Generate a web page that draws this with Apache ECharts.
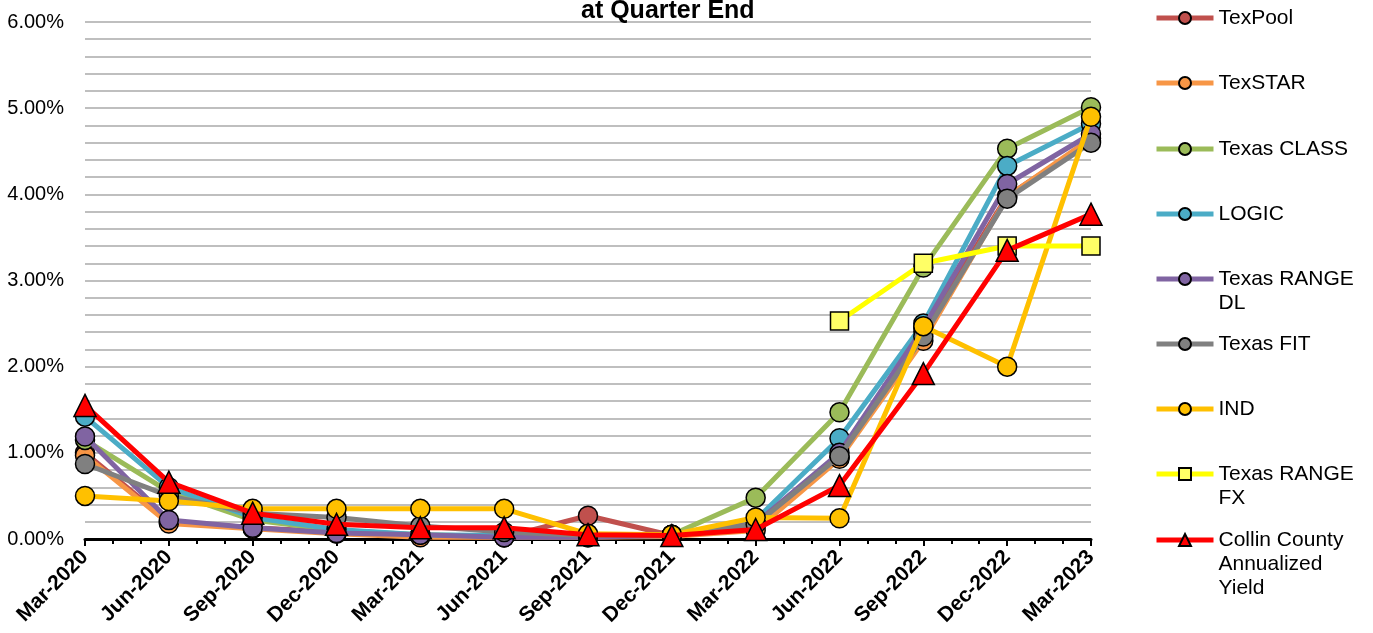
<!DOCTYPE html>
<html>
<head>
<meta charset="utf-8">
<script src="https://cdn.jsdelivr.net/npm/echarts@6/dist/echarts.min.js"></script>
<style>
  html, body { margin: 0; padding: 0; background: #fff; }
  #chart { width: 1373px; height: 633px; }
</style>
</head>
<body>
<div id="chart"></div>
<script>
// quarter-end yields, in percent
const quarters = ['Mar-2020', 'Jun-2020', 'Sep-2020', 'Dec-2020', 'Mar-2021', 'Jun-2021', 'Sep-2021',
                  'Dec-2021', 'Mar-2022', 'Jun-2022', 'Sep-2022', 'Dec-2022', 'Mar-2023']
const texPool    = [1.00, 0.20, 0.13, 0.08, 0.03, 0.02, 0.27, 0.04, 0.15, 0.95, 2.40, 3.98, 4.62]
const texStar    = [0.97, 0.18, 0.12, 0.06, 0.02, 0.02, 0.02, 0.03, 0.10, 0.93, 2.30, 3.97, 4.65]
const texasClass = [1.15, 0.55, 0.22, 0.10, 0.05, 0.03, 0.03, 0.05, 0.48, 1.47, 3.15, 4.53, 5.01]
const logic      = [1.42, 0.60, 0.25, 0.11, 0.05, 0.04, 0.03, 0.05, 0.22, 1.17, 2.50, 4.33, 4.82]
const rangeDL    = [1.19, 0.22, 0.13, 0.07, 0.05, 0.02, 0.02, 0.04, 0.18, 1.00, 2.45, 4.12, 4.70]
const texasFit   = [0.87, 0.50, 0.30, 0.25, 0.15, 0.08, 0.04, 0.05, 0.17, 0.96, 2.35, 3.95, 4.60]
const ind        = [0.50, 0.44, 0.35, 0.35, 0.35, 0.35, 0.06, 0.05, 0.25, 0.24, 2.47, 2.00, 4.90]
const rangeFX    = [null, null, null, null, null, null, null, null, null, 2.53, 3.20, 3.40, 3.40]
const collin     = [1.55, 0.66, 0.30, 0.17, 0.13, 0.13, 0.05, 0.04, 0.11, 0.62, 1.92, 3.35, 3.77]
const yTicks     = [0, 1, 2, 3, 4, 5, 6]

const FONT = 'Liberation Sans, Arial, sans-serif'

// name, values, line colour, marker, marker fill, legend label lines
const seriesDefs = [
    ['TexPool', texPool, '#c0504d', 'circle', '#c0504d', ['TexPool']],
    ['TexSTAR', texStar, '#f79646', 'circle', '#f79646', ['TexSTAR']],
    ['Texas CLASS', texasClass, '#9bbb59', 'circle', '#9bbb59', ['Texas CLASS']],
    ['LOGIC', logic, '#4bacc6', 'circle', '#4bacc6', ['LOGIC']],
    ['Texas RANGE DL', rangeDL, '#8064a2', 'circle', '#8064a2', ['Texas RANGE', 'DL']],
    ['Texas FIT', texasFit, '#808080', 'circle', '#808080', ['Texas FIT']],
    ['IND', ind, '#ffc000', 'circle', '#ffc000', ['IND']],
    ['Texas RANGE FX', rangeFX, '#ffff00', 'rect', '#ffff66', ['Texas RANGE', 'FX']],
    ['Collin County Annualized Yield', collin, '#ff0000', 'triangle', '#ff0000', ['Collin County', 'Annualized', 'Yield']]
]
const legendCenters = [18, 83, 149, 214, 279, 344, 409, 474, 540]
const LH = 24

const chart = echarts.init(document.getElementById('chart'))

const series = seriesDefs.map(function (d, k) {
    return {
        name: d[0],
        type: 'line',
        data: d[1].map(function (v, i) { return [i, v] }),
        symbol: d[3],
        symbolSize: d[3] === 'triangle' ? 22 : (d[3] === 'rect' ? 18 : 19),
        showAllSymbol: true,
        connectNulls: false,
        z: 2 + k,
        lineStyle: { color: d[2], width: 5 },
        itemStyle: { color: d[4], borderColor: '#000', borderWidth: 1.5 },
        emphasis: { disabled: true },
        animation: false
    }
})

// one legend block per item so the rows keep the reference spacing;
// blank lines on top keep the symbol level with the first text line
const legends = seriesDefs.map(function (d, k) {
    const lines = d[5]
    const pad = []
    for (let j = 1; j < lines.length; j++) pad.push('')
    const total = lines.length * 2 - 1
    return {
        data: [d[0]],
        orient: 'vertical',
        left: 1154,
        top: legendCenters[k] - total * LH / 2,
        padding: 0,
        itemWidth: 57,
        itemHeight: 15,
        selectedMode: false,
        lineStyle: { width: 5 },
        formatter: function () { return pad.concat(lines).join('\n') },
        textStyle: { fontFamily: FONT, fontSize: 21, color: '#000', lineHeight: LH }
    }
})

chart.setOption({
    backgroundColor: '#fff',
    animation: false,
    title: {
        text: 'at Quarter End',
        left: 581,
        top: -1,
        padding: 0,
        textStyle: { fontFamily: FONT, fontSize: 25, fontWeight: 'bold', color: '#000' }
    },
    legend: legends,
    grid: { left: 85, right: 282, top: 22, bottom: 94 },
    xAxis: {
        type: 'value',
        min: 0,
        max: quarters.length - 1,
        interval: 1,
        axisLine: { show: true, onZero: false, lineStyle: { color: '#000', width: 3 } },
        axisTick: { show: true, length: 7, lineStyle: { color: '#000', width: 2 } },
        minorTick: { show: true, splitNumber: 3, length: 5, lineStyle: { color: '#000', width: 2 } },
        splitLine: { show: false },
        axisLabel: {
            rotate: 45,
            margin: 15,
            fontFamily: FONT,
            fontSize: 21,
            fontWeight: 'bold',
            color: '#000',
            formatter: function (v) { return quarters[v] }
        }
    },
    yAxis: {
        type: 'value',
        min: yTicks[0],
        max: yTicks[yTicks.length - 1],
        interval: 1,
        axisLine: { show: false },
        axisTick: { show: false },
        minorTick: { show: false, splitNumber: 5 },
        splitLine: { show: true, lineStyle: { color: '#bfbfbf', width: 1.8 } },
        minorSplitLine: { show: true, lineStyle: { color: '#bfbfbf', width: 1.8 } },
        axisLabel: {
            margin: 21,
            fontFamily: FONT,
            fontSize: 20,
            color: '#000',
            formatter: function (v) { return v.toFixed(2) + '%' }
        }
    },
    series: series
})
</script>
</body>
</html>
